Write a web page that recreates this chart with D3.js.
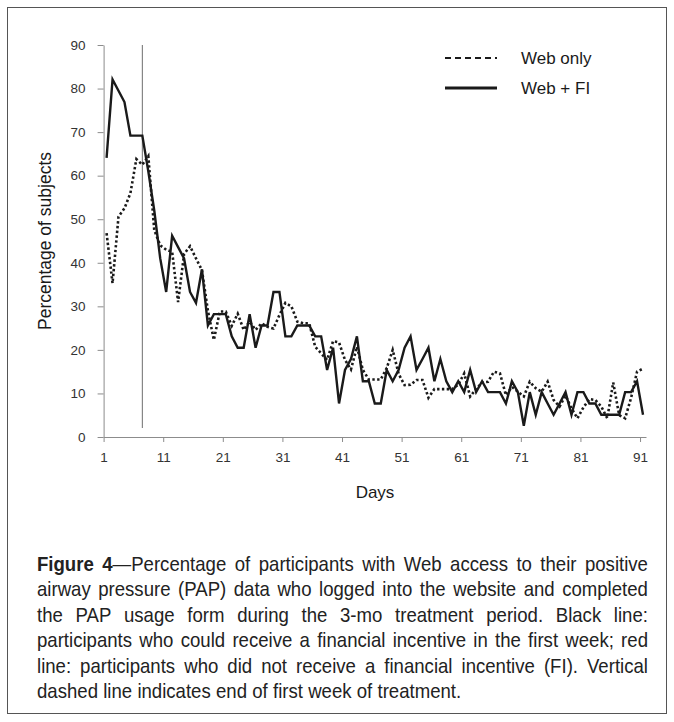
<!DOCTYPE html>
<html>
<head>
<meta charset="utf-8">
<script src="https://cdn.jsdelivr.net/npm/d3@7"></script>
<style>
  body { margin: 0; background: #fff; }
  svg { display: block; }
</style>
</head>
<body>
<svg id="fig" width="674" height="722"></svg>
<script>
// Daily percentage of subjects who logged in and completed the PAP usage form
// Web + FI group (solid line), days 1..91
const webFI = [
  64.1, 82.1, 79.5, 76.9, 69.2, 69.2, 69.2, 61.0, 52.0, 41.0,
  33.3, 46.2, 43.6, 41.0, 33.3, 30.8, 38.5, 25.6, 28.2, 28.2,
  28.2, 23.1, 20.5, 20.5, 28.2, 20.5, 25.6, 25.6, 33.3, 33.3,
  23.1, 23.1, 25.6, 25.6, 25.6, 23.1, 23.1, 15.4, 20.5, 7.7,
  15.4, 17.9, 23.1, 12.8, 12.8, 7.7, 7.7, 15.4, 12.8, 15.4,
  20.5, 23.1, 15.4, 17.9, 20.5, 12.8, 17.9, 12.8, 10.3, 12.8,
  10.3, 15.4, 10.3, 12.8, 10.3, 10.3, 10.3, 7.7, 12.8, 10.3,
  2.6, 10.3, 5.1, 10.3, 7.7, 5.1, 7.7, 10.3, 5.1, 10.3,
  10.3, 7.7, 7.7, 5.1, 5.1, 5.1, 5.1, 10.3, 10.3, 12.8,
  5.1
];
// Web only group (dotted line), days 1..91
const webOnly = [
  46.8, 35.3, 50.6, 52.5, 56.0, 63.8, 62.5, 64.5, 47.5, 44.0,
  43.0, 42.5, 31.0, 42.0, 43.8, 41.0, 38.3, 29.0, 22.3, 28.8,
  28.8, 25.5, 28.3, 24.6, 26.5, 24.6, 26.1, 25.3, 24.9, 28.0,
  30.8, 30.0, 26.5, 26.1, 26.1, 20.7, 19.2, 17.7, 22.0, 21.7,
  17.7, 15.5, 20.7, 15.4, 13.2, 13.2, 13.2, 15.8, 20.0, 14.5,
  11.9, 12.0, 13.1, 13.1, 9.0, 11.0, 11.0, 11.0, 11.0, 12.0,
  14.6, 9.3, 11.0, 12.5, 12.7, 15.0, 14.6, 9.6, 11.5, 10.4,
  9.3, 12.7, 11.2, 10.4, 12.7, 8.5, 7.0, 9.5, 6.6, 4.3,
  6.8, 8.7, 8.5, 7.0, 4.3, 12.5, 5.0, 4.3, 9.0, 15.0,
  15.7
];
const xTickDays = [1, 11, 21, 31, 41, 51, 61, 71, 81, 91];
const yTicks = [0, 10, 20, 30, 40, 50, 60, 70, 80, 90];
const endOfWeek = 7;
const seriesNames = ["Web only", "Web + FI"];

const captionLines = [
  "Figure 4—Percentage of participants with Web access to their positive",
  "airway pressure (PAP) data who logged into the website and completed",
  "the PAP usage form during the 3-mo treatment period. Black line:",
  "participants who could receive a financial incentive in the first week; red",
  "line: participants who did not receive a financial incentive (FI). Vertical",
  "dashed line indicates end of first week of treatment."
];
const captionBold = "Figure 4";

const FONT = "'Liberation Sans', Arial, sans-serif";
const INK = "#1a1a1a";
const AXIS = "#8c8c8c";

const svg = d3.select("#fig");

// outer frame
svg.append("rect")
  .attr("x", 7.5).attr("y", 7.5)
  .attr("width", 659).attr("height", 706)
  .attr("fill", "none").attr("stroke", "#555").attr("stroke-width", 1);

// scales: each day occupies one category slot
const x = d3.scaleLinear().domain([0.5, 91.5]).range([103.6, 646]);
const y = d3.scaleLinear().domain([0, 90]).range([437, 45]);

// y axis
const gy = svg.append("g")
  .attr("transform", `translate(${x(0.5)},0)`)
  .call(d3.axisLeft(y).tickValues(yTicks).tickSize(6).tickSizeOuter(0).tickPadding(12));
gy.select(".domain").attr("stroke", AXIS);
gy.selectAll(".tick line").attr("stroke", AXIS);
gy.selectAll(".tick text")
  .attr("font-family", FONT).attr("font-size", 13.5).attr("fill", "#333");

// x axis: tick marks on category boundaries, labelled with day number
const gx = svg.append("g")
  .attr("transform", `translate(0,${y(0)})`)
  .call(d3.axisBottom(x)
    .tickValues(xTickDays.map(d => d - 0.5))
    .tickFormat((d, i) => xTickDays[i])
    .tickSize(5).tickSizeOuter(0).tickPadding(10));
gx.select(".domain").attr("stroke", AXIS);
gx.selectAll(".tick line").attr("stroke", AXIS);
gx.selectAll(".tick text")
  .attr("font-family", FONT).attr("font-size", 13.5).attr("fill", "#333");

// end of first week marker
svg.append("line")
  .attr("x1", x(endOfWeek)).attr("x2", x(endOfWeek))
  .attr("y1", y(90)).attr("y2", 428)
  .attr("stroke", "#6e6e6e").attr("stroke-width", 1);

const line = d3.line()
  .x((d, i) => x(i + 1))
  .y(d => y(d));

svg.append("path")
  .datum(webOnly)
  .attr("d", line)
  .attr("fill", "none")
  .attr("stroke", INK)
  .attr("stroke-width", 2.6)
  .attr("stroke-dasharray", "2.4,2.4");

svg.append("path")
  .datum(webFI)
  .attr("d", line)
  .attr("fill", "none")
  .attr("stroke", INK)
  .attr("stroke-width", 2.4)
  .attr("stroke-linejoin", "miter");

// legend
const legend = svg.append("g");
legend.append("line")
  .attr("x1", 445).attr("x2", 497).attr("y1", 58).attr("y2", 58)
  .attr("stroke", INK).attr("stroke-width", 2).attr("stroke-dasharray", "6,4");
legend.append("line")
  .attr("x1", 445).attr("x2", 497).attr("y1", 88).attr("y2", 88)
  .attr("stroke", INK).attr("stroke-width", 3);
legend.selectAll("text.lg")
  .data(seriesNames)
  .join("text")
  .attr("class", "lg")
  .attr("x", 521)
  .attr("y", (d, i) => i === 0 ? 64 : 94)
  .attr("font-family", FONT).attr("font-size", 17).attr("fill", INK)
  .text(d => d);

// axis titles
svg.append("text")
  .attr("transform", "translate(51,241) rotate(-90)")
  .attr("text-anchor", "middle")
  .attr("font-family", FONT).attr("font-size", 17.5).attr("fill", INK)
  .text("Percentage of subjects");

svg.append("text")
  .attr("x", 375).attr("y", 498)
  .attr("text-anchor", "middle")
  .attr("font-family", FONT).attr("font-size", 17).attr("fill", INK)
  .text("Days");

// caption: slightly condensed glyphs, justified between the margins
const capLeft = 37, capRight = 648;
const capTop = 571, capStep = 25.4;
const condense = 0.93;
const cap = svg.append("g").attr("fill", "#222");

function layoutCaption(fs) {
  cap.selectAll("*").remove();
  let worst = 0;
  const rows = captionLines.map((str, li) => {
    const words = str.split(" ");
    let offset = 0;
    const nodes = words.map(w => {
      const t = cap.append("text")
        .attr("font-family", FONT).attr("font-size", fs);
      const start = offset;
      offset += w.length + 1;
      const boldLen = li === 0 ? captionBold.length : 0;
      const bEnd = Math.max(0, Math.min(w.length, boldLen - start));
      if (bEnd > 0) t.append("tspan").attr("font-weight", "bold").text(w.slice(0, bEnd));
      if (bEnd < w.length) t.append("tspan").text(w.slice(bEnd));
      return t;
    });
    const widths = nodes.map(n => n.node().getComputedTextLength() * condense);
    const total = d3.sum(widths) + (words.length - 1) * fs * 0.24;
    worst = Math.max(worst, total / (capRight - capLeft));
    return { nodes, widths, baseline: capTop + li * capStep, justify: li < captionLines.length - 1 };
  });
  return { rows, worst };
}

let fs = 20;
let res = layoutCaption(fs);
if (res.worst > 1) {
  fs = fs / res.worst;
  res = layoutCaption(fs);
}
res.rows.forEach(r => {
  const n = r.nodes.length;
  const sumW = d3.sum(r.widths);
  const gap = r.justify ? (capRight - capLeft - sumW) / (n - 1) : fs * 0.26;
  let cx = capLeft;
  r.nodes.forEach((node, i) => {
    node.attr("transform", `translate(${cx},${r.baseline}) scale(${condense},1)`);
    cx += r.widths[i] + gap;
  });
});
</script>
</body>
</html>
